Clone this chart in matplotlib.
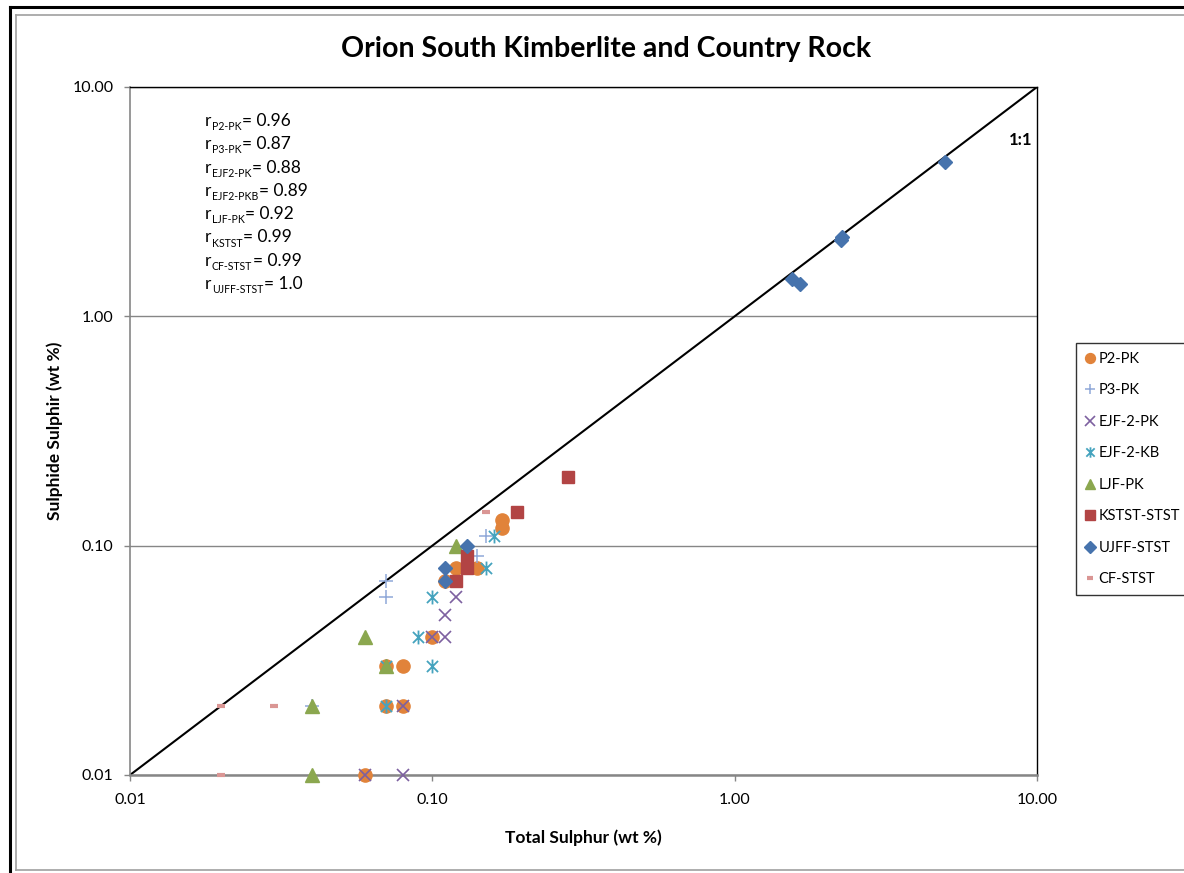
import matplotlib
matplotlib.use("Agg")
import matplotlib.pyplot as plt
from matplotlib.ticker import FixedLocator, FixedFormatter, NullLocator
from matplotlib.lines import Line2D
from matplotlib.path import Path

plt.rcParams['font.family'] = ['Lato', 'DejaVu Sans']

# data (wt %)
p2_x = [0.06, 0.07, 0.07, 0.08, 0.08, 0.10, 0.11, 0.12, 0.14, 0.17, 0.17]
p2_y = [0.01, 0.02, 0.03, 0.02, 0.03, 0.04, 0.07, 0.08, 0.08, 0.12, 0.13]

p3_x = [0.04, 0.07, 0.07, 0.14, 0.15]
p3_y = [0.02, 0.06, 0.07, 0.09, 0.11]

ejf_pk_x = [0.06, 0.08, 0.08, 0.10, 0.11, 0.11, 0.12]
ejf_pk_y = [0.01, 0.01, 0.02, 0.04, 0.04, 0.05, 0.06]

ejf_kb_x = [0.07, 0.07, 0.09, 0.10, 0.10, 0.15, 0.16]
ejf_kb_y = [0.02, 0.03, 0.04, 0.03, 0.06, 0.08, 0.11]

ljf_x = [0.04, 0.04, 0.06, 0.07, 0.12]
ljf_y = [0.01, 0.02, 0.04, 0.03, 0.10]

kstst_x = [0.12, 0.13, 0.13, 0.19, 0.28]
kstst_y = [0.07, 0.08, 0.09, 0.14, 0.20]

ujff_x = [0.11, 0.11, 0.13, 1.55, 1.65, 2.25, 2.26, 4.95]
ujff_y = [0.07, 0.08, 0.10, 1.45, 1.38, 2.15, 2.22, 4.70]

cf_x = [0.02, 0.02, 0.03, 0.15]
cf_y = [0.01, 0.02, 0.02, 0.14]

tick_vals = [0.01, 0.1, 1, 10]
tick_labels = ['0.01', '0.10', '1.00', '10.00']

r_subs = ['P2-PK', 'P3-PK', 'EJF2-PK', 'EJF2-PKB', 'LJF-PK', 'KSTST', 'CF-STST', 'UJFF-STST']
r_vals = ['0.96', '0.87', '0.88', '0.89', '0.92', '0.99', '0.99', '1.0']

# excel style star: an x with a vertical bar through it
star = Path([(-1, -1), (1, 1), (-1, 1), (1, -1), (0, -1.25), (0, 1.25)],
            [Path.MOVETO, Path.LINETO, Path.MOVETO, Path.LINETO, Path.MOVETO, Path.LINETO])

W, H = 1184, 873
fig = plt.figure(figsize=(W / 100, H / 100), dpi=100)
ax = fig.add_axes([130 / W, 1 - 775 / H, (1037 - 130) / W, (775 - 87) / H])

# outer frames
fig.add_artist(Line2D([10 / W, 10 / W], [0, 1 - 7 / H], color='black', lw=2.2, transform=fig.transFigure))
fig.add_artist(Line2D([10 / W, 1], [1 - 7 / H, 1 - 7 / H], color='black', lw=2.2, transform=fig.transFigure))
fig.add_artist(Line2D([16 / W, 16 / W], [1 - 870 / H, 1 - 15 / H], color='#a0a0a0', lw=1.2, transform=fig.transFigure))
fig.add_artist(Line2D([16 / W, 1], [1 - 15 / H, 1 - 15 / H], color='#a0a0a0', lw=1.2, transform=fig.transFigure))
fig.add_artist(Line2D([16 / W, 1], [1 - 870 / H, 1 - 870 / H], color='#a0a0a0', lw=1.2, transform=fig.transFigure))

ax.set_xscale('log')
ax.set_yscale('log')
ax.set_xlim(0.01, 10)
ax.set_ylim(0.01, 10)

# 1:1 line
ax.plot([0.01, 10], [0.01, 10], color='black', lw=1.5, zorder=2)

series = [
    (p2_x, p2_y, 'P2-PK', dict(marker='o', ms=9.5, mfc='#E1833A', mec='#E1833A')),
    (p3_x, p3_y, 'P3-PK', dict(marker='+', ms=10, mec='#8FA8D8', mew=1.1)),
    (ejf_pk_x, ejf_pk_y, 'EJF-2-PK', dict(marker='x', ms=9, mec='#7D60A0', mew=1.2)),
    (ejf_kb_x, ejf_kb_y, 'EJF-2-KB', dict(marker=star, ms=10, mec='#45A3BE', mew=1.3)),
    (ljf_x, ljf_y, 'LJF-PK', dict(marker='^', ms=10, mfc='#8BA74F', mec='#8BA74F')),
    (kstst_x, kstst_y, 'KSTST-STST', dict(marker='s', ms=9, mfc='#B24444', mec='#B24444')),
    (ujff_x, ujff_y, 'UJFF-STST', dict(marker='D', ms=7.5, mfc='#4673AD', mec='#4673AD')),
    (cf_x, cf_y, 'CF-STST', dict(marker='_', ms=6, mec='#DA9694', mew=3)),
]
for i, (xs, ys, lab, st) in enumerate(series):
    ax.plot(xs, ys, linestyle='none', label=lab, zorder=3 + i, clip_on=False, **st)

# axes styling
for s in ['left', 'bottom']:
    ax.spines[s].set_color('#868686')
ax.spines['bottom'].set_linewidth(1.8)
ax.spines['left'].set_linewidth(1.2)
for s in ['top', 'right']:
    ax.spines[s].set_color('black')
    ax.spines[s].set_linewidth(1.0)

for axis in [ax.xaxis, ax.yaxis]:
    axis.set_major_locator(FixedLocator(tick_vals))
    axis.set_major_formatter(FixedFormatter(tick_labels))
    axis.set_minor_locator(NullLocator())
ax.tick_params(axis='both', length=4, color='#868686', labelsize=11.5, width=1)
ax.tick_params(axis='y', pad=8)
ax.tick_params(axis='x', pad=9)
ax.yaxis.grid(True, color='#868686', lw=1)
ax.set_axisbelow(True)

ax.set_xlabel('Total Sulphur (wt %)', fontsize=12.5, fontweight='bold', va='center')
ax.set_ylabel('Sulphide Sulphir (wt %)', fontsize=12.5, fontweight='bold', va='center')
ax.xaxis.set_label_coords(0.5, (775 - 838) / 688)
ax.yaxis.set_label_coords((55 - 130) / 907, 0.5)
fig.text(606 / W, 1 - 49 / H, 'Orion South Kimberlite and Country Rock', ha='center', va='center',
         fontsize=20.5, fontweight='bold')

ax.text(1032 / W, 1 - 140 / H, '1:1', transform=fig.transFigure, ha='right', va='center',
        fontsize=12, fontweight='bold')

# correlation annotations
for i, (sub, val) in enumerate(zip(r_subs, r_vals)):
    yb = 1 - (126 + i * 23.3) / H
    t = fig.text(205 / W, yb, 'r', fontsize=12.5, va='baseline', ha='left')
    s = ax.annotate(sub, xy=(1, 0), xycoords=t, xytext=(0.3, -0.8), textcoords='offset points',
                    fontsize=7.6, va='baseline', ha='left')
    ax.annotate('= ' + val, xy=(1, yb), xycoords=(s, 'figure fraction'), xytext=(0.5, 0),
                textcoords='offset points', fontsize=12.5, va='baseline', ha='left')

leg = ax.legend(loc='upper left', bbox_to_anchor=(1076 / W, 1 - 343 / H), bbox_transform=fig.transFigure,
                fontsize=10.5, frameon=True, fancybox=False, edgecolor='black', labelspacing=1.2,
                handlelength=0.7, handletextpad=0.25, borderpad=0.6, borderaxespad=0, markerscale=0.75)
leg.get_frame().set_linewidth(1.0)

fig.savefig('out.png', dpi=100)
